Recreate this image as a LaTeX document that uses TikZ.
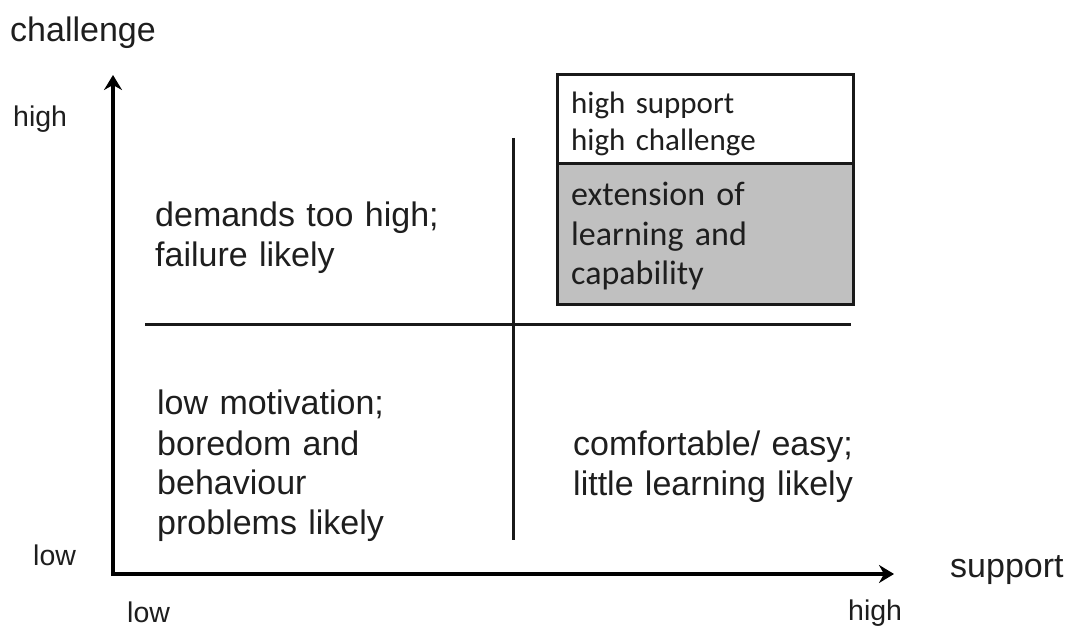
\documentclass[tikz,border=0pt]{standalone}
\usepackage{fontspec}
\setmainfont{Liberation Sans}
\newfontfamily\calfont{Carlito}
\usetikzlibrary{arrows.meta}
\definecolor{txt}{HTML}{1E1E1E}
\definecolor{boxgray}{HTML}{C0C0C0}
\begin{document}
\begin{tikzpicture}[x=1pt,y=-1pt,
  lbl/.style={inner sep=0pt, anchor=base west, text=txt, font=\fontsize{34}{40}\selectfont},
  small/.style={inner sep=0pt, anchor=base west, text=txt, font=\fontsize{28.5}{34}\selectfont},
  quad/.style={lbl, text width=330pt, align=left},
  boxtxt/.style={inner sep=0pt, anchor=base west, text=txt, text width=280pt, align=left},
  axis/.style={line width=3.5pt, draw=black, line join=miter},
  divider/.style={line width=3pt, draw=black!90},
  boxframe/.style={draw=black!90, line width=3pt, inner sep=0pt, outer sep=0pt, anchor=north west, minimum width=296pt},
  tip/.style={Stealth[length=15pt,width=18pt,inset=5pt]}
]
\useasboundingbox (0,0) rectangle (1069,628);
% axes
\coordinate (O) at (113,574);
\coordinate (Ytip) at (113,75);
\coordinate (Xtip) at (894,574);
\draw[axis, {Stealth[length=15pt,width=18pt,inset=5pt]}-{Stealth[length=15pt,width=18pt,inset=5pt]}] (Ytip) -- (O) -- (Xtip);
% dividers
\coordinate (hl) at (145,325);
\coordinate (hr) at (851,325);
\coordinate (vt) at (513,138);
\coordinate (vb) at (513,540);
\draw[divider] (hl) -- (hr);
\draw[divider] (vt) -- (vb);
% box
\node[boxframe, minimum height=89pt, fill=white] (boxtop) at (557,75) {};
\node[boxframe, minimum height=141pt, fill=boxgray] (boxbot) at (boxtop.south west) {};
% axis labels
\node[lbl] (challenge) at (10,42) {challenge};
\node[small] (yhigh) at (13,127) {high};
\node[small] (ylow) at (33,565) {low};
\node[small] (xlow) at (127,622) {low};
\node[small] (xhigh) at (848,620) {high};
\node[lbl] (support) at (950,577) {support};
% quadrant texts
\node[quad] (q1) at (155,227) {demands too high;\\failure likely};
\node[quad] (q2) at (157,415) {low motivation;\\boredom and\\behaviour\\problems likely};
\node[quad] (q3) at (573,455) {comfortable/ easy;\\little learning likely};
% box texts
\node[boxtxt, font=\calfont\fontsize{31}{37}\selectfont] (bt) at (571,114) {high support\\high challenge};
\node[boxtxt, font=\calfont\fontsize{34}{39.5}\selectfont] (bb) at (571,206) {extension of\\learning and\\capability};
\end{tikzpicture}
\end{document}
